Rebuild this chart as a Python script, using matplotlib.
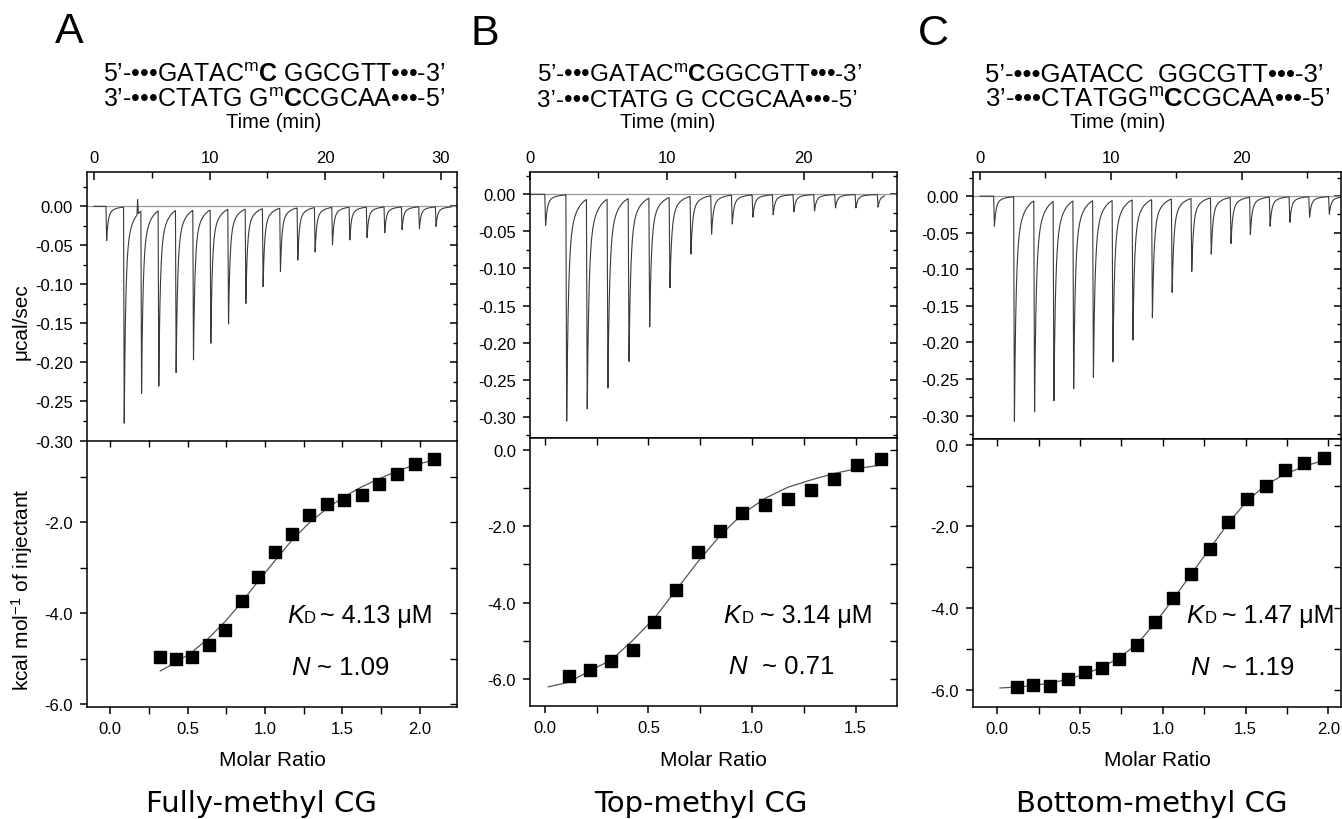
import numpy as np
import matplotlib
matplotlib.use('Agg')
import matplotlib.pyplot as plt
from matplotlib.ticker import MultipleLocator, FormatStrFormatter

plt.rcParams['font.family'] = ['Liberation Sans', 'DejaVu Sans']
plt.rcParams['mathtext.fontset'] = 'custom'
plt.rcParams['mathtext.rm'] = 'Liberation Sans'
plt.rcParams['mathtext.it'] = 'Liberation Sans:italic'
plt.rcParams['mathtext.bf'] = 'Liberation Sans:bold'
plt.rcParams['axes.unicode_minus'] = False

W, H = 1342, 820

# ---- A: fully-methyl CG ----
a_peak_time = [1.10, 2.62, 4.12, 5.61, 7.11, 8.61, 10.11, 11.64, 13.14, 14.63,
               16.13, 17.63, 19.13, 20.63, 22.13, 23.62, 25.15, 26.65, 28.15, 29.59]
a_peak_depth = [-0.044, -0.277, -0.234, -0.225, -0.208, -0.192, -0.171, -0.147, -0.121, -0.100,
                -0.081, -0.067, -0.057, -0.048, -0.042, -0.039, -0.033, -0.029, -0.028, -0.025]
a_spike_time = [3.78]
a_spike_height = [0.019]
a_ratio = [0.323, 0.427, 0.530, 0.635, 0.743, 0.849, 0.955, 1.065, 1.172, 1.286,
           1.398, 1.508, 1.624, 1.739, 1.853, 1.967, 2.090]
a_heat = [-4.97, -5.01, -4.96, -4.69, -4.37, -3.73, -3.21, -2.65, -2.25, -1.85,
          -1.59, -1.52, -1.39, -1.15, -0.93, -0.72, -0.60]
a_fit_ratio = [0.323, 0.427, 0.530, 0.635, 0.743, 0.849, 0.955, 1.065, 1.172, 1.286,
               1.398, 1.508, 1.624, 1.739, 1.853, 1.967, 2.090]
a_fit_heat = [-5.27, -5.08, -4.85, -4.55, -4.18, -3.76, -3.30, -2.84, -2.40, -2.01,
              -1.70, -1.44, -1.22, -1.04, -0.87, -0.74, -0.63]

# ---- B: top-methyl CG ----
b_peak_time = [1.14, 2.68, 4.18, 5.69, 7.23, 8.74, 10.22, 11.75, 13.26, 14.77,
               16.28, 17.76, 19.27, 20.78, 22.31, 23.80, 25.42]
b_peak_depth = [-0.042, -0.305, -0.283, -0.255, -0.220, -0.174, -0.122, -0.078, -0.052, -0.039,
                -0.030, -0.027, -0.023, -0.022, -0.018, -0.018, -0.017]
b_ratio = [0.116, 0.217, 0.320, 0.423, 0.528, 0.632, 0.737, 0.845, 0.954, 1.063,
           1.173, 1.284, 1.396, 1.509, 1.623]
b_heat = [-5.91, -5.76, -5.53, -5.23, -4.50, -3.68, -2.67, -2.12, -1.66, -1.45,
          -1.29, -1.06, -0.77, -0.39, -0.25]
b_fit_ratio = [0.016, 0.116, 0.217, 0.320, 0.423, 0.528, 0.632, 0.737, 0.845, 0.954,
               1.063, 1.173, 1.284, 1.396, 1.509, 1.623]
b_fit_heat = [-6.20, -6.08, -5.78, -5.50, -4.99, -4.41, -3.68, -2.94, -2.25, -1.68,
              -1.27, -0.98, -0.79, -0.62, -0.49, -0.40]

# ---- C: bottom-methyl CG ----
c_peak_time = [1.10, 2.63, 4.17, 5.65, 7.16, 8.67, 10.16, 11.69, 13.18, 14.69,
               16.19, 17.68, 19.19, 20.67, 22.18, 23.69, 25.20, 26.71]
c_peak_depth = [-0.041, -0.307, -0.289, -0.273, -0.257, -0.242, -0.221, -0.192, -0.162, -0.128,
                -0.100, -0.077, -0.063, -0.051, -0.040, -0.035, -0.028, -0.024]
c_ratio = [0.117, 0.218, 0.320, 0.425, 0.530, 0.633, 0.737, 0.846, 0.955, 1.063,
           1.172, 1.283, 1.396, 1.509, 1.624, 1.739, 1.855, 1.974]
c_heat = [-5.93, -5.88, -5.91, -5.73, -5.58, -5.48, -5.26, -4.91, -4.35, -3.76,
          -3.17, -2.55, -1.89, -1.33, -1.01, -0.63, -0.45, -0.32]
c_fit_ratio = [0.016, 0.117, 0.218, 0.320, 0.425, 0.530, 0.633, 0.737, 0.846, 0.955,
               1.063, 1.172, 1.283, 1.396, 1.509, 1.624, 1.739, 1.855, 1.974]
c_fit_heat = [-5.96, -5.94, -5.90, -5.84, -5.75, -5.62, -5.45, -5.22, -4.88, -4.36,
              -3.78, -3.17, -2.55, -1.92, -1.38, -0.98, -0.72, -0.53, -0.38]


def thermogram(peak_time, peak_depth, t_end, spike_time=(), spike_height=()):
    # raw ITC trace: a fast dip at each injection followed by a decay back to baseline
    t = np.arange(0.0, t_end, 0.01)
    y = np.zeros_like(t)
    for tp, d in zip(peak_time, peak_depth):
        fall = (t > tp - 0.06) & (t <= tp)
        y[fall] += d * (t[fall] - (tp - 0.06)) / 0.06
        after = t > tp
        dt = t[after] - tp
        y[after] += d * (0.75 * np.exp(-dt / 0.12) + 0.25 * np.exp(-dt / 0.6))
    for ts, h in zip(spike_time, spike_height):
        y += h * np.clip(1 - np.abs(t - ts) / 0.06, 0, None)
    return t, y


fig = plt.figure(figsize=(W / 100, H / 100), dpi=100)


def add_axes(left, right, top, bottom):
    return fig.add_axes([left / W, 1 - bottom / H, (right - left) / W, (bottom - top) / H])


def frame(ax):
    for s in ax.spines.values():
        s.set_linewidth(1.1)


def style_top(ax, xlim, ylim):
    ax.set_xlim(xlim)
    ax.set_ylim(ylim)
    frame(ax)
    ax.xaxis.set_major_locator(MultipleLocator(10))
    ax.xaxis.set_minor_locator(MultipleLocator(5))
    ax.yaxis.set_major_locator(MultipleLocator(0.05))
    ax.yaxis.set_minor_locator(MultipleLocator(0.025))
    ax.yaxis.set_major_formatter(FormatStrFormatter('%.2f'))
    ax.tick_params(axis='x', which='both', direction='in', top=True, bottom=False,
                   labeltop=True, labelbottom=False, labelsize=12, pad=5)
    ax.tick_params(axis='x', which='major', length=6, width=1.1)
    ax.tick_params(axis='x', which='minor', length=4, width=1.0)
    ax.tick_params(axis='y', which='both', direction='out', left=True, right=False,
                   labelsize=12, pad=5)
    ax.tick_params(axis='y', which='major', length=5, width=1.1)
    ax.tick_params(axis='y', which='minor', length=3, width=1.0)
    sec = ax.secondary_yaxis('right')
    sec.yaxis.set_major_locator(MultipleLocator(0.05))
    sec.yaxis.set_minor_locator(MultipleLocator(0.025))
    sec.tick_params(which='both', direction='in', labelright=False)
    sec.tick_params(which='major', length=5, width=1.1)
    sec.tick_params(which='minor', length=3, width=1.0)
    sec.spines['right'].set_visible(False)


def style_bottom(ax, xlim, ylim):
    ax.set_xlim(xlim)
    ax.set_ylim(ylim)
    frame(ax)
    ax.xaxis.set_major_locator(MultipleLocator(0.5))
    ax.xaxis.set_minor_locator(MultipleLocator(0.25))
    ax.xaxis.set_major_formatter(FormatStrFormatter('%.1f'))
    ax.yaxis.set_major_locator(MultipleLocator(2.0))
    ax.yaxis.set_minor_locator(MultipleLocator(1.0))
    ax.yaxis.set_major_formatter(FormatStrFormatter('%.1f'))
    ax.tick_params(axis='both', which='both', direction='out', top=False, right=False,
                   labelsize=12, pad=5)
    ax.tick_params(which='major', length=5, width=1.1)
    ax.tick_params(which='minor', length=5, width=1.0)
    sx = ax.secondary_xaxis('top')
    sx.xaxis.set_major_locator(MultipleLocator(0.5))
    sx.xaxis.set_minor_locator(MultipleLocator(0.25))
    sx.tick_params(which='both', direction='in', labeltop=False, length=5, width=1.0)
    sx.spines['top'].set_visible(False)
    sy = ax.secondary_yaxis('right')
    sy.yaxis.set_major_locator(MultipleLocator(2.0))
    sy.yaxis.set_minor_locator(MultipleLocator(1.0))
    sy.tick_params(which='both', direction='in', labelright=False, length=5, width=1.0)
    sy.spines['right'].set_visible(False)


panels = [
    dict(box=(87, 457, 173, 441.5, 708.3), txlim=(-0.6, 31.4), tylim=(-0.30, 0.044),
         bxlim=(-0.15, 2.24), bylim=(-6.07, -0.2), t_end=30.9,
         peaks=(a_peak_time, a_peak_depth), spikes=(a_spike_time, a_spike_height),
         pts=(a_ratio, a_heat), fit=(a_fit_ratio, a_fit_heat)),
    dict(box=(530, 897, 173, 439.3, 707.3), txlim=(0.0, 26.8), tylim=(-0.329, 0.030),
         bxlim=(-0.072, 1.70), bylim=(-6.71, 0.30), t_end=25.9,
         peaks=(b_peak_time, b_peak_depth), spikes=((), ()),
         pts=(b_ratio, b_heat), fit=(b_fit_ratio, b_fit_heat)),
    dict(box=(972.7, 1341, 173, 440, 707.7), txlim=(-0.56, 27.6), tylim=(-0.332, 0.033),
         bxlim=(-0.149, 2.077), bylim=(-6.42, 0.14), t_end=27.7,
         peaks=(c_peak_time, c_peak_depth), spikes=((), ()),
         pts=(c_ratio, c_heat), fit=(c_fit_ratio, c_fit_heat)),
]

for p in panels:
    left, right, top, mid, bottom = p['box']
    ax1 = add_axes(left, right, top, mid)
    ax2 = add_axes(left, right, mid, bottom)

    t, y = thermogram(p['peaks'][0], p['peaks'][1], p['t_end'], *p['spikes'])
    ax1.axhline(0, color='#9a9a9a', lw=0.9, zorder=1)
    ax1.plot(t, y, color='#3a3a3a', lw=0.8, zorder=2)
    style_top(ax1, p['txlim'], p['tylim'])

    ax2.plot(p['fit'][0], p['fit'][1], color='#555555', lw=0.9)
    ax2.plot(p['pts'][0], p['pts'][1], 's', color='black', ms=8)
    style_bottom(ax2, p['bxlim'], p['bylim'])


def ftext(x, y, s, **kw):
    kw.setdefault('va', 'baseline')
    return fig.text(x / W, 1 - y / H, s, **kw)


# panel letters
ftext(55, 43, 'A', fontsize=31)
ftext(470, 45, 'B', fontsize=31)
ftext(918, 45, 'C', fontsize=31)

# duplex sequences above each panel
seq = [
    (103, 18, "5’-•••GATAC${}^{\\mathrm{m}}\\mathbf{C}$ GGCGTT•••-3’",
              "3’-•••CTATG G${}^{\\mathrm{m}}\\mathbf{C}$CGCAA•••-5’"),
    (537, 17.5, "5’-•••GATAC${}^{\\mathrm{m}}\\mathbf{C}$GGCGTT•••-3’",
                "3’-•••CTATG G CCGCAA•••-5’"),
    (985, 18.5, "5’-•••GATACC  GGCGTT•••-3’",
                "3’-•••CTATGG${}^{\\mathrm{m}}\\mathbf{C}$CGCAA•••-5’"),
]
for x0, fs, l1, l2 in seq:
    ftext(x0, 82, l1, fontsize=fs)
    ftext(x0, 107, l2, fontsize=fs)

for xc in [274, 668, 1118]:
    ftext(xc, 123, 'Time (min)', fontsize=14.5, ha='center', va='center')

for xc in [272, 713, 1157]:
    ftext(xc, 761, 'Molar Ratio', fontsize=15, ha='center', va='center')

ftext(21, 322, 'μcal/sec', fontsize=15, rotation=90, ha='center', va='center')
ftext(22, 590, 'kcal mol$^{-1}$ of injectant', fontsize=15, rotation=90, ha='center', va='center')

# fitted parameters
fits = [
    (287, 304, 320, 622.7, '~ 4.13 μM', 291, 317, 675, '~ 1.09'),
    (723, 742, 760, 623.3, '~ 3.14 μM', 728, 762, 674, '~ 0.71'),
    (1186, 1205, 1222, 622.7, '~ 1.47 μM', 1190, 1222, 675, '~ 1.19'),
]
for kx, dx, vx, ky, kval, nx, nvx, ny, nval in fits:
    ftext(kx, ky, 'K', fontsize=18.5, style='italic')
    ftext(dx, ky, 'D', fontsize=12)
    ftext(vx, ky, kval, fontsize=18)
    ftext(nx, ny, 'N', fontsize=18.5, style='italic')
    ftext(nvx, ny, nval, fontsize=18.5)

# panel titles
for xc, name in [(261, 'Fully-methyl CG'), (701, 'Top-methyl CG'), (1152, 'Bottom-methyl CG')]:
    ftext(xc, 812, name, fontsize=21, ha='center', family='DejaVu Sans')

fig.savefig('out.png', dpi=100)
